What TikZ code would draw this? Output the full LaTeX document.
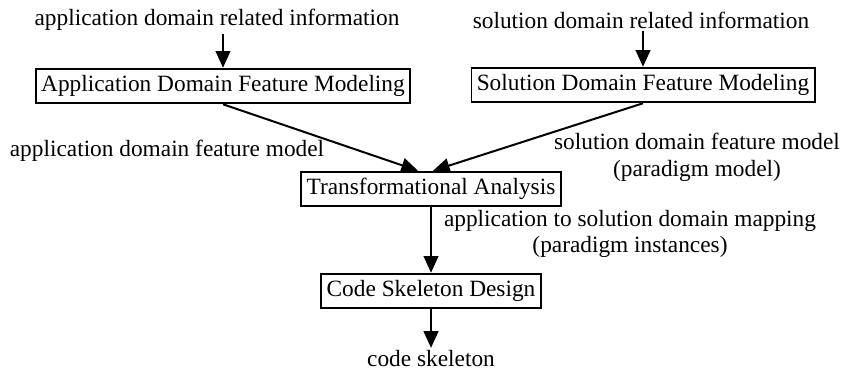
\documentclass[tikz,border=0pt]{standalone}
\usepackage{fontspec}
\setmainfont{Liberation Serif}
\usetikzlibrary{positioning,arrows.meta,calc}

\begin{document}
\begin{tikzpicture}[
  x=0.75pt, y=-0.75pt,
  >={Triangle[length=12.5pt,width=11pt]},
  font=\fontsize{17.5}{20}\selectfont,
  box/.style={
    rectangle, draw, line width=1.4pt, inner xsep=4pt,
    minimum height=26pt
  },
  info/.style={inner sep=2pt, align=center},
  arrow/.style={->, line width=1.5pt}
]
\useasboundingbox (0,0) rectangle (841,372);

% feature modeling steps
\node (adfm) [box] at (223,86) {Application Domain Feature Modeling};
\node (sdfm) [box] at (643,85) {Solution Domain Feature Modeling};
\node (ta)   [box] at (431,189) {Transformational Analysis};
\node (csd)  [box] at (431,291) {Code Skeleton Design};

% inputs and outputs
\node (ain) [info] at (217,20) {application domain related information};
\node (sin) [info] at (641,20) {solution domain related information};
\node (skel) [info] at (431,359) {code skeleton};

\node (afm) [info] at (167,151) {application domain feature model};
\node (sfm) [info] at (697,157) {solution domain feature model\\(paradigm model)};
\node (map) [info] at (630,234) {application to solution domain mapping\\(paradigm instances)};

\coordinate (tain1) at ($(ta.north)+(-13,0)$);
\coordinate (tain2) at ($(ta.north)+(2,0)$);

\draw[arrow] (adfm.north |- ain.south) -- (adfm);
\draw[arrow] (sdfm.north |- sin.south) -- (sdfm);
\draw[arrow] (adfm.south) -- (tain1);
\draw[arrow] (sdfm.south) -- (tain2);
\draw[arrow] (ta) -- (csd);
\draw[arrow] (csd) -- (skel);
\end{tikzpicture}
\end{document}
